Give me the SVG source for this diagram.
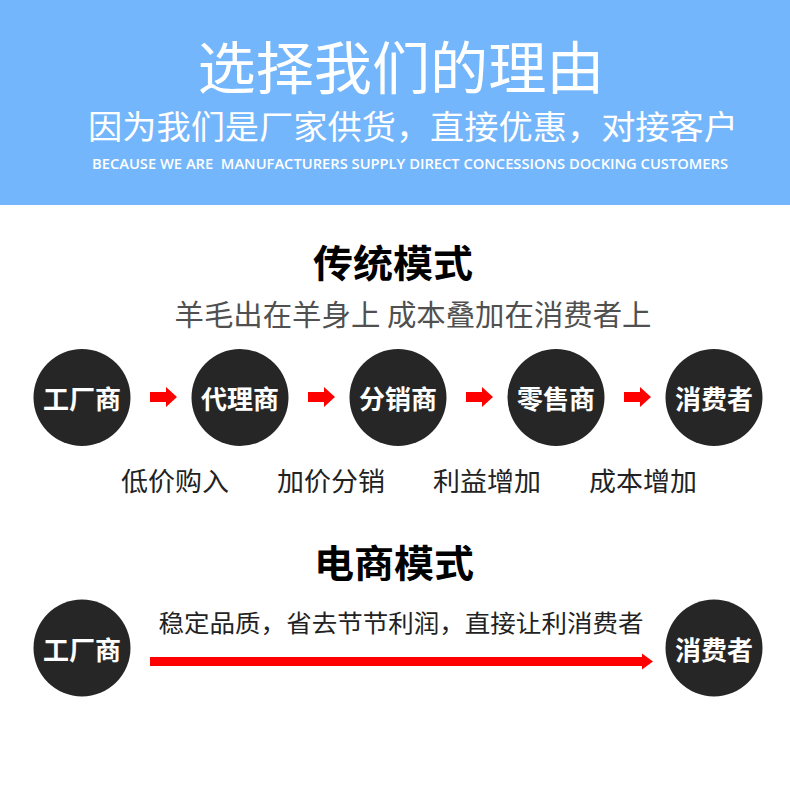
<svg xmlns="http://www.w3.org/2000/svg" width="790" height="798" viewBox="0 0 790 798">
<style>
.cjk{font-family:"Noto Sans CJK SC","Noto Sans",sans-serif}
.hd{fill:#ffffff}
.node circle{fill:#262626}
.node text{fill:#ffffff;font-size:26px;font-weight:bold;text-anchor:middle}
.ttl{fill:#000000;font-size:38px;font-weight:bold;text-anchor:middle}
.sub{fill:#505050;font-size:29px;text-anchor:middle}
.lbl{fill:#222222;font-size:26px;text-anchor:middle}
.arr{fill:#ff0000}
</style>
<rect x="0" y="0" width="790" height="205" fill="#73b6fb"/>
<text class="cjk hd" x="401" y="89" font-size="57" text-anchor="middle" textLength="407" lengthAdjust="spacingAndGlyphs">选择我们的理由</text>
<text class="cjk hd" x="413" y="139" font-size="33" text-anchor="middle" textLength="650" lengthAdjust="spacingAndGlyphs">因为我们是厂家供货，直接优惠，对接客户</text>
<text class="hd" xml:space="preserve" x="410" y="169" font-family="'Open Sans','Noto Sans',sans-serif" font-size="15" font-weight="600" text-anchor="middle" textLength="636" lengthAdjust="spacingAndGlyphs">BECAUSE WE ARE  MANUFACTURERS SUPPLY DIRECT CONCESSIONS DOCKING CUSTOMERS</text>

<text class="cjk ttl" x="393" y="277" textLength="160" lengthAdjust="spacingAndGlyphs">传统模式</text>
<text class="cjk sub" x="413" y="326" textLength="477" lengthAdjust="spacingAndGlyphs">羊毛出在羊身上 成本叠加在消费者上</text>

<g id="n1" class="node"><circle cx="82" cy="397.5" r="48.5"/><text class="cjk" x="82" y="409">工厂商</text></g>
<g id="n2" class="node"><circle cx="240" cy="397.5" r="48.5"/><text class="cjk" x="240" y="409">代理商</text></g>
<g id="n3" class="node"><circle cx="398" cy="397.5" r="48.5"/><text class="cjk" x="398" y="409">分销商</text></g>
<g id="n4" class="node"><circle cx="556" cy="397.5" r="48.5"/><text class="cjk" x="556" y="409">零售商</text></g>
<g id="n5" class="node"><circle cx="714" cy="397.5" r="48.5"/><text class="cjk" x="714" y="409">消费者</text></g>

<g id="connectors">
<path class="arr" d="M150,392 H166 V387 L177,397 L166,407 V402 H150 Z"/>
<path class="arr" d="M308,392 H324 V387 L335,397 L324,407 V402 H308 Z"/>
<path class="arr" d="M466,392 H482 V387 L493,397 L482,407 V402 H466 Z"/>
<path class="arr" d="M624,392 H640 V387 L651,397 L640,407 V402 H624 Z"/>
<path class="arr" d="M150,657 H642 V653.5 L653,661.5 L642,669.5 V666 H150 Z"/>
</g>

<text class="cjk lbl" x="175" y="491" textLength="108" lengthAdjust="spacingAndGlyphs">低价购入</text>
<text class="cjk lbl" x="331" y="491" textLength="108" lengthAdjust="spacingAndGlyphs">加价分销</text>
<text class="cjk lbl" x="487" y="491" textLength="108" lengthAdjust="spacingAndGlyphs">利益增加</text>
<text class="cjk lbl" x="643" y="491" textLength="108" lengthAdjust="spacingAndGlyphs">成本增加</text>

<text class="cjk ttl" x="394" y="577" textLength="160" lengthAdjust="spacingAndGlyphs">电商模式</text>
<text class="cjk" x="401" y="632" font-size="24" fill="#222222" text-anchor="middle" textLength="485" lengthAdjust="spacingAndGlyphs">稳定品质，省去节节利润，直接让利消费者</text>

<g id="b1" class="node"><circle cx="82" cy="648" r="48.5"/><text class="cjk" x="82" y="659.5">工厂商</text></g>
<g id="b2" class="node"><circle cx="714" cy="648" r="48.5"/><text class="cjk" x="714" y="659.5">消费者</text></g>
</svg>
